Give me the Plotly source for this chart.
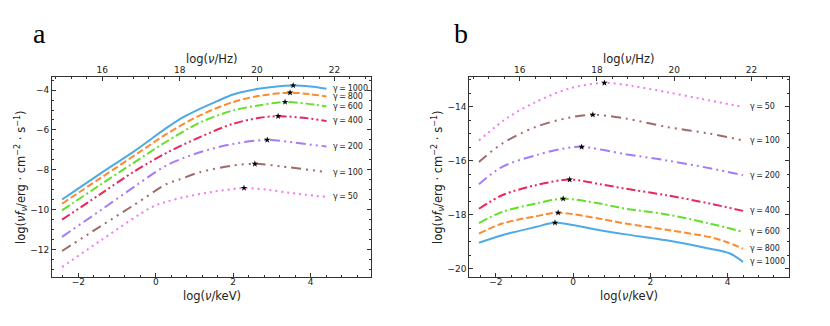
import numpy as np
import plotly.graph_objects as go

# log10 of 1 keV expressed in Hz, used for the top axis
KEV_TO_HZ = 17.383

gammas = [1000, 800, 600, 400, 200, 100, 50]

# panel a: log(nu/keV) vs log(nu f_nu)
a_x_1000 = [-2.42, -1.44, -0.58, 0.28, 0.71, 1.14, 1.57, 2.0, 2.65, 3.55, 4.0, 4.41]
a_y_1000 = [-9.49, -8.20, -7.10, -5.90, -5.36, -4.94, -4.57, -4.22, -3.94, -3.77, -3.82, -3.93]
a_x_800 = [-2.42, -1.44, -0.35, 0.28, 1.14, 2.0, 2.65, 3.47, 3.95, 4.41]
a_y_800 = [-9.70, -8.43, -7.02, -6.20, -5.27, -4.60, -4.30, -4.13, -4.20, -4.32]
a_x_600 = [-2.42, -1.44, -0.58, 0.28, 1.14, 2.0, 2.69, 3.34, 3.9, 4.41]
a_y_600 = [-10.03, -8.76, -7.66, -6.58, -5.63, -5.02, -4.76, -4.60, -4.68, -4.82]
a_x_400 = [-2.42, -1.44, -0.58, 0.28, 1.14, 2.0, 2.69, 3.16, 3.81, 4.41]
a_y_400 = [-10.50, -9.23, -8.11, -7.15, -6.36, -5.69, -5.39, -5.31, -5.39, -5.55]
a_x_200 = [-2.42, -1.44, -0.55, 0.28, 1.14, 2.0, 2.88, 3.6, 4.41]
a_y_200 = [-11.36, -10.05, -8.84, -7.78, -7.12, -6.70, -6.50, -6.64, -6.83]
a_x_100 = [-2.42, -1.44, -0.55, 0.28, 0.59, 1.14, 2.0, 2.56, 3.21, 4.41]
a_y_100 = [-12.07, -10.85, -9.75, -8.71, -8.50, -8.12, -7.78, -7.70, -7.82, -8.11]
a_x_50 = [-2.42, -1.39, -0.1, 0.28, 0.76, 1.45, 2.0, 2.28, 2.9, 3.47, 4.41]
a_y_50 = [-12.88, -11.50, -9.87, -9.60, -9.36, -9.11, -8.96, -8.91, -9.0, -9.16, -9.36]

# panel b
b_x_1000 = [-2.44, -1.84, -0.97, -0.47, 0.69, 1.36, 2.42, 3.54, 4.06, 4.40]
b_y_1000 = [-19.04, -18.76, -18.46, -18.30, -18.58, -18.73, -18.95, -19.26, -19.44, -19.75]
b_x_800 = [-2.44, -1.84, -0.97, -0.39, 0.69, 1.36, 2.42, 3.54, 3.97, 4.40]
b_y_800 = [-18.70, -18.33, -18.06, -17.93, -18.15, -18.33, -18.56, -18.83, -19.01, -19.26]
b_x_600 = [-2.44, -1.84, -0.97, -0.26, 0.69, 1.36, 2.42, 3.54, 4.40]
b_y_600 = [-18.31, -17.90, -17.59, -17.41, -17.59, -17.78, -17.99, -18.33, -18.64]
b_x_400 = [-2.44, -1.84, -0.97, -0.09, 0.69, 1.36, 2.42, 3.54, 4.40]
b_y_400 = [-17.78, -17.28, -16.91, -16.70, -16.87, -17.04, -17.28, -17.59, -17.86]
b_x_200 = [-2.44, -1.84, -0.97, -0.28, 0.22, 1.36, 2.42, 3.54, 4.40]
b_y_200 = [-16.87, -16.23, -15.80, -15.56, -15.49, -15.76, -15.99, -16.28, -16.54]
b_x_100 = [-2.44, -1.84, -0.97, -0.11, 0.51, 1.36, 2.42, 3.54, 4.40]
b_y_100 = [-16.05, -15.37, -14.75, -14.41, -14.30, -14.44, -14.75, -15.00, -15.25]
b_x_50 = [-2.44, -1.67, -0.97, -0.11, 0.81, 1.55, 2.42, 3.28, 4.40]
b_y_50 = [-15.25, -14.38, -13.83, -13.33, -13.12, -13.24, -13.46, -13.70, -14.01]

panel_a = [(a_x_1000, a_y_1000), (a_x_800, a_y_800), (a_x_600, a_y_600), (a_x_400, a_y_400),
           (a_x_200, a_y_200), (a_x_100, a_y_100), (a_x_50, a_y_50)]
panel_b = [(b_x_1000, b_y_1000), (b_x_800, b_y_800), (b_x_600, b_y_600), (b_x_400, b_y_400),
           (b_x_200, b_y_200), (b_x_100, b_y_100), (b_x_50, b_y_50)]

colors = ["#4eaae6", "#ff8a2a", "#62e02a", "#e8285c", "#a57cf6", "#a06a6a", "#f07cf0"]
dashes = ["solid", "7px,3px", "9px,3px,2px,3px", "9px,3px,2px,3px,2px,3px",
          "10px,4px,2px,4px,2px,4px", "10px,5px,2px,5px,2px,5px,2px,5px", "2px,4px"]

ink = "#333333"

# the page body adds an 8px margin, so the figure is 16px smaller than the window
W, H, OFF = 814, 310, 8


def px(x):
    return (x - OFF) / W


def py(y):
    return 1 - (y - OFF) / H


fig = go.Figure()


def add_panel(curves, xa, ya, xtop):
    for (xs, ys), g, c, d in zip(curves, gammas, colors, dashes):
        fig.add_trace(go.Scatter(x=xs, y=ys, xaxis=xa, yaxis=ya, mode="lines",
                                 line=dict(color=c, width=2, dash=d, shape="spline", smoothing=0.9),
                                 hoverinfo="skip"))
        i = int(np.argmax(ys))
        fig.add_trace(go.Scatter(x=[xs[i]], y=[ys[i]], xaxis=xa, yaxis=ya, mode="markers",
                                 marker=dict(symbol="star", size=5, color="black"),
                                 hoverinfo="skip"))
        fig.add_annotation(x=4.53, y=ys[-1], xref=xa, yref=ya, text="γ\u2009=\u2009%d" % g,
                           showarrow=False, xanchor="left", yanchor="middle",
                           font=dict(size=8, color="#222"))
    # invisible copy on the Hz axis so the top axis is drawn
    xs, ys = curves[0]
    fig.add_trace(go.Scatter(x=np.array(xs) + KEV_TO_HZ, y=ys, xaxis=xtop, yaxis=ya,
                             mode="lines", line=dict(width=0), opacity=0, hoverinfo="skip"))


add_panel(panel_a, "x", "y", "x3")
add_panel(panel_b, "x2", "y2", "x4")

common = dict(showline=True, linecolor=ink, linewidth=1, ticks="inside", ticklen=4,
              tickwidth=1, tickcolor=ink, showgrid=False, zeroline=False,
              tickfont=dict(size=9, color="#222"))
xminor = dict(ticks="inside", ticklen=2, tickcolor=ink, dtick=0.4, tick0=0)
yminor = dict(ticks="inside", ticklen=2, tickcolor=ink, dtick=0.5, tick0=0)

xa_range = [-2.68, 5.56]
xb_range = [-2.69, 5.59]
ya_range = [-13.39, -3.33]
yb_range = [-20.32, -12.89]
ydom = [py(277.3), py(76.7)]

fig.update_layout(
    width=W, height=H, margin=dict(l=0, r=0, t=0, b=0),
    plot_bgcolor="white", paper_bgcolor="white", showlegend=False,
    font=dict(family="DejaVu Sans", size=9, color="#222"),
    xaxis=dict(domain=[px(52), px(371)], range=xa_range, anchor="y", dtick=2, tick0=0,
               minor=xminor, ticklabelstandoff=-4, **common),
    yaxis=dict(domain=ydom, range=ya_range, anchor="x", dtick=2, tick0=0,
               mirror="ticks", minor=yminor, **common),
    xaxis2=dict(domain=[px(469.3), px(789)], range=xb_range, anchor="y2", dtick=2, tick0=0,
                minor=xminor, ticklabelstandoff=-4, **common),
    yaxis2=dict(domain=ydom, range=yb_range, anchor="x2", dtick=2, tick0=0,
                mirror="ticks", minor=yminor, **common),
    xaxis3=dict(overlaying="x", side="top", anchor="y",
                range=[v + KEV_TO_HZ for v in xa_range], dtick=2, tick0=0,
                minor=xminor, ticklabelstandoff=-1, **common),
    xaxis4=dict(overlaying="x2", side="top", anchor="y2",
                range=[v + KEV_TO_HZ for v in xb_range], dtick=2, tick0=0,
                minor=xminor, ticklabelstandoff=-1, **common),
)

ytitle = "log(<i>νf</i><sub><i>ν</i></sub>/erg · cm<sup>−2</sup> · s<sup>−1</sup>)"
title_font = dict(size=11.5, color="#222")


def label(x, y, text, font, angle=0):
    fig.add_annotation(x=px(x), y=py(y), xref="paper", yref="paper", text=text,
                       textangle=angle, showarrow=False, xanchor="center", yanchor="middle",
                       font=font)


for cx, ylab_x, letter, lx in [(211.5, 21, "a", 39), (629.2, 438, "b", 461)]:
    label(cx, 295.7, "log(<i>ν</i>/keV)", title_font)
    label(cx, 59.3, "log(<i>ν</i>/Hz)", title_font)
    label(ylab_x, 177, ytitle, title_font, angle=-90)
    label(lx, 33, letter, dict(family="Liberation Serif", size=28, color="black"))

fig.write_html("out.html")
